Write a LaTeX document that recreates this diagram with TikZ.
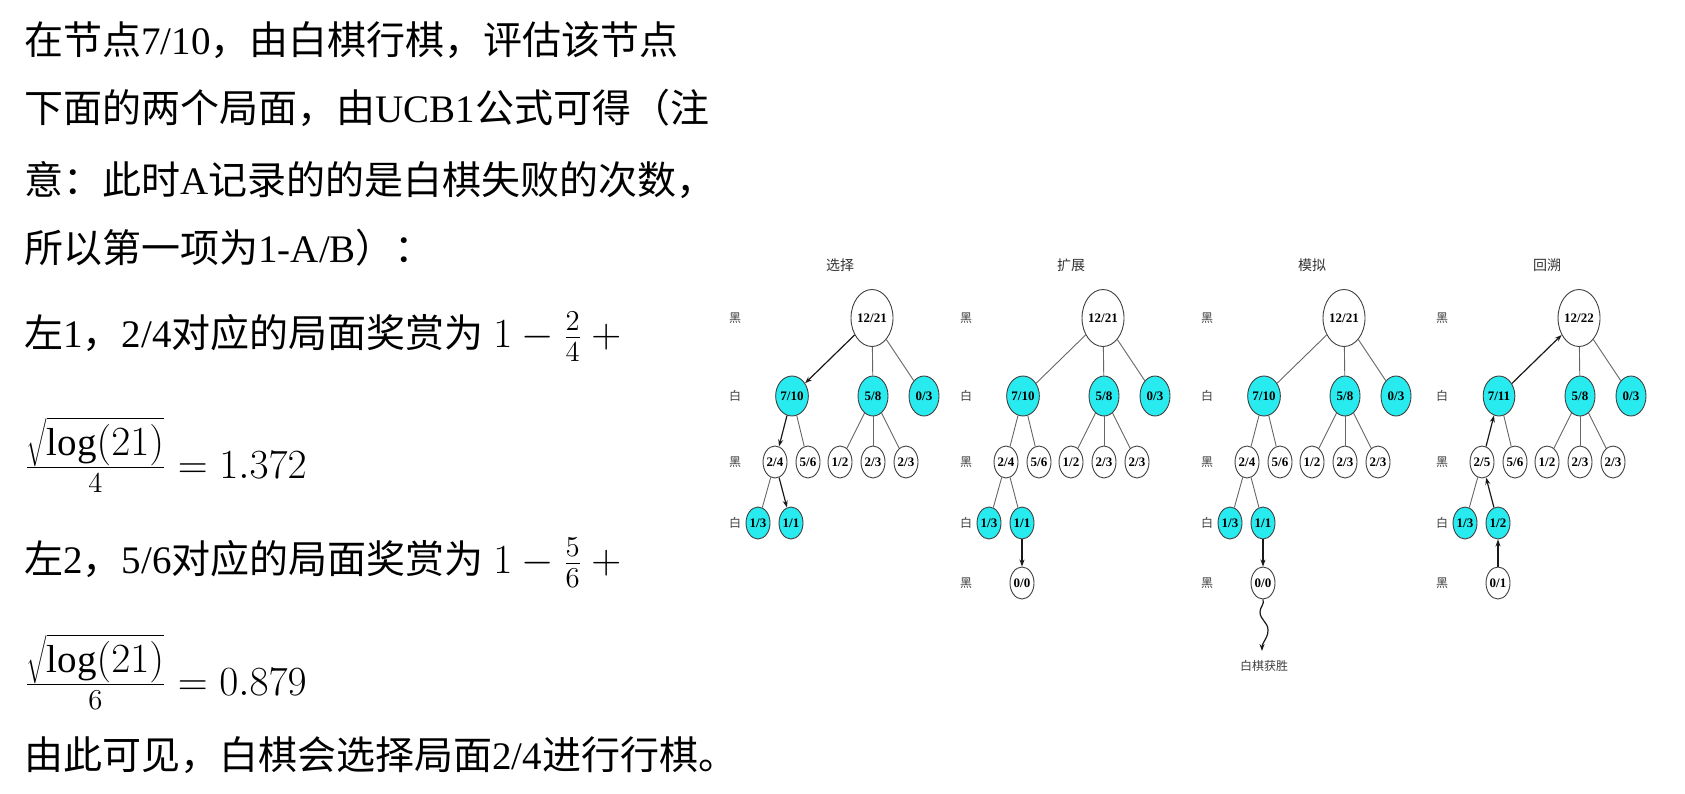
\documentclass[tikz,border=0pt]{standalone}
\usepackage{fontspec}
\setmainfont{Liberation Serif}
\newfontfamily\cjk{Noto Sans CJK SC}
\usetikzlibrary{shapes.geometric,arrows.meta}
\definecolor{tcyan}{RGB}{40,235,240}
\tikzset{
 base/.style={ellipse,draw=black!75,line width=0.45pt,inner sep=0pt,font=\fontsize{6.5}{7}\selectfont\bfseries},
 big/.style={base,minimum width=21pt,minimum height=28.5pt},
 mid/.style={base,minimum width=15pt,minimum height=20pt},
 sml/.style={base,minimum width=12pt,minimum height=16pt},
 wh/.style={fill=white},
 cy/.style={fill=tcyan},
 lvl/.style={font=\cjk\fontsize{6}{7}\selectfont,text=black!75},
 ttl/.style={font=\cjk\fontsize{7}{8}\selectfont,text=black!80},
 tedge/.style={draw=black!60,line width=0.45pt},
 arr/.style={draw=black!90,line width=0.6pt,-{Stealth[length=3.5pt,width=2.5pt]}},
 body/.style={anchor=west,inner sep=0pt,font=\fontsize{19.5}{23}\selectfont},
}
\newcommand{\mctspanel}[9]{%
 \begin{scope}[xshift=#1*0.5pt]
 \node[ttl] (#2t) at (840,265) {#3};
 \foreach \yy/\ll/\nn in {318/黑/1,396/白/2,462/黑/3,523/白/4}
   \node[lvl] (#2l\nn) at (735,\yy) {\ll};
 \node[big,wh] (#2r) at (872,318) {#4};
 \node[mid,cy] (#2a) at (792,396) {#5};
 \node[mid,cy] (#2b) at (873,396) {5/8};
 \node[mid,cy] (#2c) at (924,396) {0/3};
 \node[sml,wh] (#2d) at (775,462) {#6};
 \node[sml,wh] (#2e) at (808,462) {5/6};
 \node[sml,wh] (#2f) at (840,462) {1/2};
 \node[sml,wh] (#2g) at (873,462) {2/3};
 \node[sml,wh] (#2h) at (906,462) {2/3};
 \node[sml,cy] (#2i) at (758,523) {1/3};
 \node[sml,cy] (#2j) at (791,523) {#7};
 \ifx\relax#8\relax\else
   \node[lvl] (#2l5) at (735,583) {黑};
   \node[sml,wh] (#2k) at (791,583) {#8};
 \fi
 \foreach \u/\v in {#9} \draw[tedge] (#2\u) -- (#2\v);
 \end{scope}}
\begin{document}
\begin{tikzpicture}[x=0.5pt,y=-0.5pt]
\useasboundingbox (0,0) rectangle (1685,793);
% left text
\node[body] (t1) at (24,40) {{\cjk 在节点}7/10{\cjk ，由白棋行棋，评估该节点}};
\node[body] (t2) at (24,108) {{\cjk 下面的两个局面，由}UCB1{\cjk 公式可得（注}};
\node[body] (t3) at (24,180) {{\cjk 意：此时}A{\cjk 记录的的是白棋失败的次数，}};
\node[body] (t4) at (24,248) {{\cjk 所以第一项为}1-A/B{\cjk ）：}};
\node[body] (t5) at (24,337) {{\cjk 左}1{\cjk ，}2/4{\cjk 对应的局面奖赏为} $1-\frac{2}{4}+{}$};
\node[body] (t6) at (24,455) {$\frac{\displaystyle\sqrt{\mathrm{log}(21)}}{4}=1.372$};
\node[body] (t7) at (24,563) {{\cjk 左}2{\cjk ，}5/6{\cjk 对应的局面奖赏为} $1-\frac{5}{6}+{}$};
\node[body] (t8) at (24,672) {$\frac{\displaystyle\sqrt{\mathrm{log}(21)}}{6}=0.879$};
\node[body] (t9) at (24,755) {{\cjk 由此可见，白棋会选择局面}2/4{\cjk 进行行棋。}};
% panels
\mctspanel{0}{P}{选择}{12/21}{7/10}{2/4}{1/1}{}{r/b,r/c,a/e,b/f,b/g,b/h,d/i}
\draw[arr] (Pr) -- (Pa);
\draw[arr] (Pa) -- (Pd);
\draw[arr] (Pd) -- (Pj);
\mctspanel{231}{Q}{扩展}{12/21}{7/10}{2/4}{1/1}{0/0}{r/a,r/b,r/c,a/d,a/e,b/f,b/g,b/h,d/i,d/j}
\draw[arr] (Qj) -- (Qk);
\mctspanel{472}{R}{模拟}{12/21}{7/10}{2/4}{1/1}{0/0}{r/a,r/b,r/c,a/d,a/e,b/f,b/g,b/h,d/i,d/j}
\draw[arr] (Rj) -- (Rk);
\node[lvl,font=\cjk\fontsize{6}{7}\selectfont] (win) at (1264,666) {白棋获胜};
\coordinate (wend) at (1262,651);
\draw[arr] (Rk.south) to[out=-70,in=90] (1260,612) to[out=-90,in=90] (1268,630) to[out=-90,in=90] (wend);
\mctspanel{707}{S}{回溯}{12/22}{7/11}{2/5}{1/2}{0/1}{r/b,r/c,a/e,b/f,b/g,b/h,d/i}
\draw[arr] (Sk) -- (Sj);
\draw[arr] (Sj) -- (Sd);
\draw[arr] (Sd) -- (Sa);
\draw[arr] (Sa) -- (Sr);
\end{tikzpicture}
\end{document}
